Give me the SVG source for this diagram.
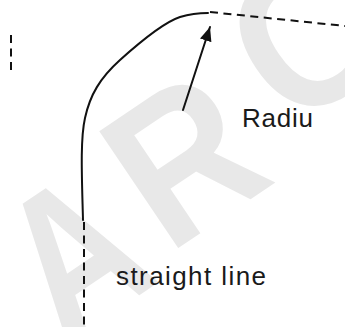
<svg xmlns="http://www.w3.org/2000/svg" width="345" height="327" viewBox="0 0 345 327">
<style>
.wm{font-family:"Liberation Sans",Arial,sans-serif;font-weight:bold;font-size:205px;fill:#e8e8e8}
.lbl{font-family:"Liberation Sans",Arial,sans-serif;font-size:26px;fill:#1a1a1a}
.solid{fill:none;stroke:#111;stroke-width:2;stroke-linecap:round}
.dash{fill:none;stroke:#111;stroke-width:2;stroke-dasharray:8 5.5}
</style>
<defs>
<marker id="ah" viewBox="0 0 14 12" refX="14" refY="6" markerWidth="14" markerHeight="12" markerUnits="userSpaceOnUse" orient="auto">
<path d="M0,0 L14,6 L0,12 Z" fill="#111"/>
</marker>
</defs>
<rect width="345" height="327" fill="#fff"/>
<g id="watermark">
<text class="wm" transform="translate(64,346) rotate(-34) scale(0.8,1)">A</text>
<text class="wm" transform="translate(168,255) rotate(-34) scale(0.9,1)">R</text>
<text class="wm" transform="translate(290,132) rotate(-34) scale(0.9,1)">C</text>
</g>
<g id="connectors">
<path id="curve" class="solid" d="M83,220 C82,180 80,140 85,118 C90,95 100,78 120,60 C140,42 165,22 180,17 C190,14 200,13 208,13"/>
<line id="top-dash" class="dash" x1="210" y1="12" x2="345" y2="26"/>
<line id="bottom-dash" class="dash" x1="84" y1="222" x2="84" y2="327"/>
<line id="left-dash" class="dash" stroke-width="1.5" stroke="#444" x1="11" y1="35" x2="11" y2="72"/>
<line id="radius-arrow" class="solid" x1="183" y1="110" x2="210" y2="27" marker-end="url(#ah)"/>
</g>
<g id="label-radiu"><text class="lbl" x="242" y="127" textLength="71">Radiu</text></g>
<g id="label-straight"><text class="lbl" x="116" y="285" textLength="150">straight line</text></g>
</svg>
